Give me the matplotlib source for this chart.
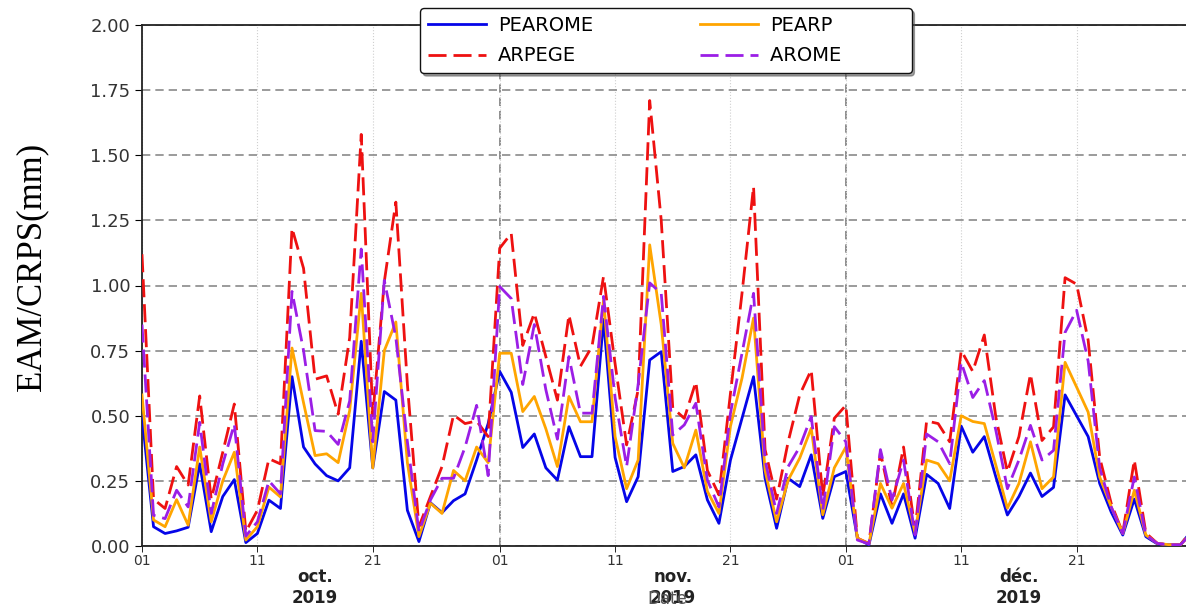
import numpy as np
import pandas as pd
import matplotlib
matplotlib.use("Agg")
import matplotlib.pyplot as plt
import matplotlib.dates as mdates

dates = pd.date_range("2019-10-01", "2019-12-31", freq="D")

pearome = [0.50, 0.074, 0.048, 0.058, 0.072, 0.315, 0.055, 0.19, 0.255, 0.013,
           0.048, 0.176, 0.144, 0.65, 0.38, 0.315, 0.27, 0.25, 0.30, 0.786,
           0.30, 0.593, 0.56, 0.137, 0.017, 0.166, 0.128, 0.174, 0.20, 0.33,
           0.47, 0.67, 0.59, 0.378, 0.43, 0.30, 0.253, 0.458, 0.343, 0.343,
           0.87, 0.34, 0.17, 0.266, 0.714, 0.746, 0.286, 0.305, 0.35, 0.177,
           0.087, 0.33, 0.49, 0.65, 0.26, 0.068, 0.26, 0.228, 0.35, 0.106,
           0.266, 0.286, 0.03, 0.004, 0.20, 0.087, 0.20, 0.03, 0.275, 0.24,
           0.144, 0.46, 0.36, 0.42, 0.265, 0.119, 0.19, 0.28, 0.19, 0.225,
           0.58, 0.50, 0.42, 0.24, 0.13, 0.042, 0.18, 0.036, 0.008, 0.005,
           0.005, 0.06]

arpege = [1.12, 0.18, 0.144, 0.305, 0.234, 0.576, 0.18, 0.36, 0.545, 0.055,
          0.137, 0.335, 0.315, 1.22, 1.066, 0.64, 0.653, 0.506, 0.80, 1.58,
          0.50, 1.015, 1.32, 0.62, 0.074, 0.19, 0.305, 0.503, 0.47, 0.48,
          0.42, 1.143, 1.20, 0.77, 0.894, 0.727, 0.56, 0.887, 0.69, 0.766,
          1.035, 0.70, 0.388, 0.60, 1.71, 1.25, 0.53, 0.49, 0.63, 0.29,
          0.196, 0.586, 0.97, 1.38, 0.37, 0.18, 0.40, 0.58, 0.676, 0.19,
          0.49, 0.54, 0.03, 0.01, 0.36, 0.15, 0.38, 0.06, 0.48, 0.47,
          0.40, 0.75, 0.67, 0.81, 0.495, 0.285, 0.42, 0.66, 0.405, 0.457,
          1.03, 1.005, 0.79, 0.34, 0.163, 0.05, 0.33, 0.05, 0.01, 0.005,
          0.005, 0.06]

pearp = [0.58, 0.10, 0.074, 0.178, 0.08, 0.38, 0.093, 0.25, 0.36, 0.023,
         0.074, 0.226, 0.188, 0.76, 0.55, 0.347, 0.354, 0.32, 0.52, 0.97,
         0.30, 0.75, 0.86, 0.32, 0.036, 0.164, 0.125, 0.29, 0.25, 0.38,
         0.32, 0.74, 0.74, 0.516, 0.574, 0.45, 0.305, 0.574, 0.477, 0.477,
         0.945, 0.42, 0.22, 0.33, 1.156, 0.85, 0.394, 0.30, 0.445, 0.21,
         0.125, 0.46, 0.644, 0.875, 0.29, 0.093, 0.253, 0.337, 0.452, 0.12,
         0.30, 0.38, 0.03, 0.008, 0.24, 0.145, 0.24, 0.05, 0.33, 0.316,
         0.25, 0.50, 0.478, 0.47, 0.31, 0.145, 0.24, 0.40, 0.22, 0.265,
         0.705, 0.61, 0.514, 0.265, 0.15, 0.048, 0.214, 0.042, 0.01, 0.005,
         0.005, 0.05]

arome = [0.85, 0.118, 0.105, 0.214, 0.15, 0.475, 0.125, 0.315, 0.468, 0.038,
         0.093, 0.25, 0.20, 0.977, 0.75, 0.443, 0.44, 0.39, 0.557, 1.14,
         0.40, 1.02, 0.80, 0.40, 0.055, 0.177, 0.26, 0.26, 0.38, 0.54,
         0.27, 0.996, 0.95, 0.62, 0.85, 0.60, 0.41, 0.727, 0.51, 0.51,
         0.958, 0.57, 0.305, 0.62, 1.01, 0.97, 0.426, 0.465, 0.548, 0.253,
         0.15, 0.51, 0.74, 0.97, 0.33, 0.125, 0.305, 0.38, 0.497, 0.138,
         0.458, 0.40, 0.023, 0.008, 0.37, 0.177, 0.33, 0.042, 0.43, 0.40,
         0.316, 0.705, 0.57, 0.635, 0.444, 0.22, 0.33, 0.463, 0.33, 0.367,
         0.82, 0.905, 0.71, 0.30, 0.15, 0.048, 0.265, 0.042, 0.01, 0.005,
         0.005, 0.05]

month_starts = pd.to_datetime(["2019-11-01", "2019-12-01"])
month_mid = pd.to_datetime(["2019-10-16", "2019-11-16", "2019-12-16"])
month_labels = ["oct.\n2019", "nov.\n2019", "déc.\n2019"]
yticks = [0.0, 0.25, 0.5, 0.75, 1.0, 1.25, 1.5, 1.75, 2.0]

fig = plt.figure(figsize=(11.86, 6.06), dpi=100)
ax = fig.add_axes([142 / 1186, 60 / 606, 1050 / 1186, 521 / 606])

lw = 2.0
dash = (0, (6.5, 2.5))
ax.plot(dates, pearome, color="#0505e8", lw=lw, label="PEAROME", zorder=3)
ax.plot(dates, arpege, color="#ee1111", lw=lw, ls=dash, label="ARPEGE", zorder=3)
ax.plot(dates, pearp, color="orange", lw=lw, label="PEARP", zorder=3)
ax.plot(dates, arome, color="#9b1ee6", lw=lw, ls=dash, label="AROME          ", zorder=3)

ax.set_xlim(dates[0], dates[-1])
ax.set_ylim(0, 2.0)
ax.set_yticks(yticks)
ax.set_yticklabels([f"{v:.2f}" for v in yticks])

ax.yaxis.grid(True, ls=(0, (5, 3)), color="#8a8a8a", lw=1.2)
for m in month_starts:
    ax.axvline(m, ls=(0, (5, 3)), color="#7a7a7a", lw=1.2, zorder=1)

ax.xaxis.set_minor_locator(mdates.DayLocator(bymonthday=[1, 11, 21]))
ax.xaxis.set_minor_formatter(mdates.DateFormatter("%d"))
ax.xaxis.grid(True, which="minor", ls=":", color="#cfcfcf", lw=0.8)
ax.set_xticks(month_mid)
ax.set_xticklabels(month_labels, fontweight="bold", fontsize=12)
ax.tick_params(axis="x", which="major", length=0, pad=16, colors="#222222")
ax.tick_params(axis="x", which="minor", length=4, labelsize=10, pad=2,
               labelcolor="#333333")
ax.tick_params(axis="y", length=5, labelsize=13, labelcolor="#333333")

for s in ["left", "bottom", "top"]:
    ax.spines[s].set_color("#222222")
    ax.spines[s].set_linewidth(1.3)
ax.spines["right"].set_visible(False)

ax.set_xlabel("Date", fontsize=12, color="#555555")
ax.xaxis.set_label_coords(0.5, -0.085)

leg = ax.legend(ncol=2, loc="upper left", bbox_to_anchor=(0.265, 1.0326),
                borderaxespad=0, fontsize=14, handlelength=3.0,
                handletextpad=0.6, columnspacing=5.5, labelspacing=0.6,
                fancybox=True, shadow=True, framealpha=1, edgecolor="#111111")
leg.set_zorder(6)

fig.text(0.027, 0.56, "EAM/CRPS(mm)", rotation=90, va="center", ha="center",
         family="Liberation Serif", fontsize=25)

plt.savefig("out.png", dpi=100)
